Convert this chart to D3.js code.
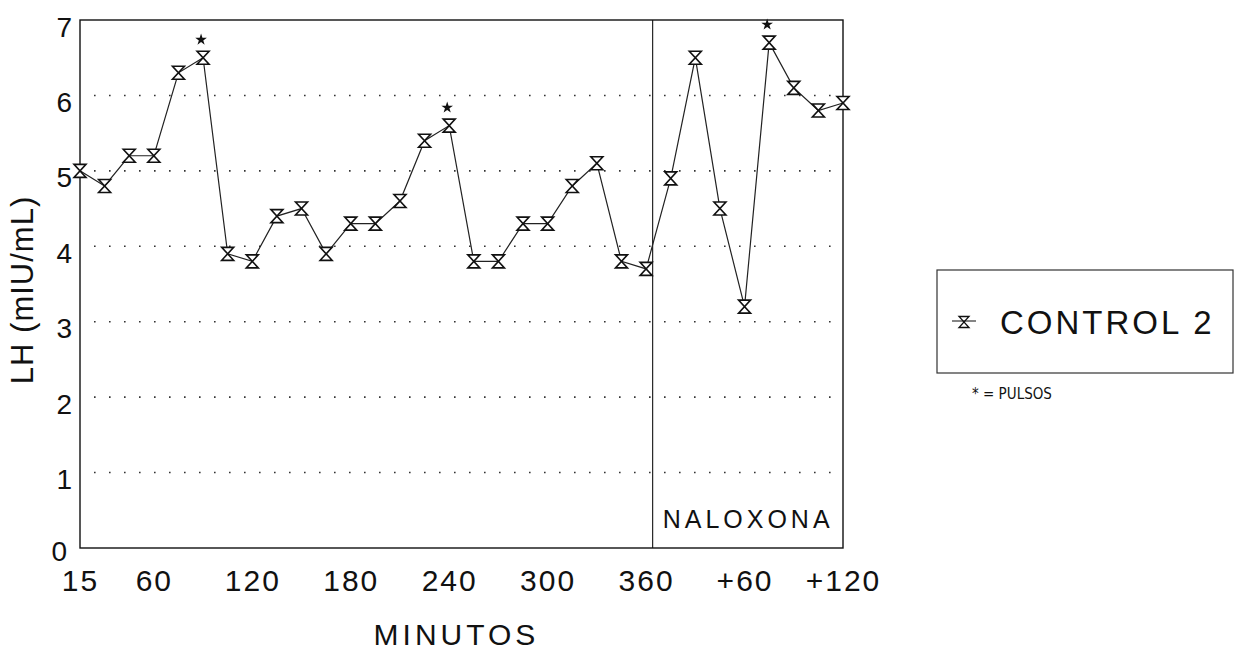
<!DOCTYPE html>
<html>
<head>
<meta charset="utf-8">
<script src="https://cdn.jsdelivr.net/npm/d3@7"></script>
<style>
  html, body { margin: 0; padding: 0; background: #fff; }
  svg { display: block; font-family: "Liberation Sans", Arial, Helvetica, sans-serif; }
</style>
</head>
<body>
<svg id="chart" width="1234" height="654"></svg>
<script>
// ---- data ----
const minutes = [15,30,45,60,75,90,105,120,135,150,165,180,195,210,225,240,255,270,285,300,315,330,345,360,
                 375,390,405,420,435,450,465,480];
const lhValues = [5.0,4.8,5.2,5.2,6.3,6.5,3.9,3.8,4.4,4.5,3.9,4.3,4.3,4.6,5.4,5.6,3.8,3.8,4.3,4.3,4.8,5.1,3.8,3.7,
                  4.9,6.5,4.5,3.2,6.7,6.1,5.8,5.9];
const pulseMinutes = [90, 240, 435];
const xTickValues = [15,60,120,180,240,300,360,420,480];
const xTickLabels = ["15","60","120","180","240","300","360","+60","+120"];
const yTickValues = [0,1,2,3,4,5,6,7];
const gridValues = [1,2,3,4,5,6];
const naloxoneStart = 364;
const seriesName = "CONTROL 2";
const pulseNote = "* = PULSOS";
const naloxoneLabel = "NALOXONA";
const xTitle = "MINUTOS";
const yTitle = "LH (mIU/mL)";

// ---- layout ----
(function draw() {
const svg = d3.select("#chart");
const pLeft = 80, pRight = 843, pTop = 20, pBottom = 548;
const x = d3.scaleLinear().domain([15, 480]).range([pLeft, pRight]);
const y = d3.scaleLinear().domain([0, 7]).range([pBottom, pTop]);
const ink = "#111";

// gridlines (dotted)
svg.append("g").selectAll("line").data(gridValues).join("line")
  .attr("x1", pLeft + 14).attr("x2", pRight)
  .attr("y1", d => y(d)).attr("y2", d => y(d))
  .attr("stroke", "#333").attr("stroke-width", 1.6)
  .attr("stroke-dasharray", "1.6,13.4");

// frame
svg.append("rect")
  .attr("x", pLeft).attr("y", pTop)
  .attr("width", pRight - pLeft).attr("height", pBottom - pTop)
  .attr("fill", "none").attr("stroke", ink).attr("stroke-width", 1.4);

// naloxone divider
svg.append("line")
  .attr("x1", x(naloxoneStart)).attr("x2", x(naloxoneStart))
  .attr("y1", pTop).attr("y2", pBottom)
  .attr("stroke", ink).attr("stroke-width", 1.1);

svg.append("text")
  .attr("x", x(naloxoneStart) + 10).attr("y", 528)
  .attr("font-size", 25).attr("letter-spacing", 4)
  .attr("fill", ink)
  .text(naloxoneLabel);

// axes
const yAxis = svg.append("g").attr("transform", `translate(${pLeft},0)`)
  .call(d3.axisLeft(y).tickValues(yTickValues).tickSize(0).tickPadding(8).tickFormat(d3.format("d")));
yAxis.select(".domain").remove();
yAxis.selectAll("text").attr("dy", null).attr("y", d => d === 0 ? 12 : 16)
  .attr("x", d => d === 0 ? -13 : -8)
  .attr("font-size", 28).attr("font-family", "Liberation Sans, Arial, sans-serif").attr("fill", ink);

const xAxis = svg.append("g").attr("transform", `translate(0,${pBottom})`)
  .call(d3.axisBottom(x).tickValues(xTickValues).tickSize(0).tickPadding(0)
        .tickFormat((d, i) => xTickLabels[i]));
xAxis.select(".domain").remove();
xAxis.selectAll("text").attr("dy", null).attr("y", 43)
  .attr("font-size", 30).attr("letter-spacing", 2)
  .attr("font-family", "Liberation Sans, Arial, sans-serif").attr("fill", ink);

// axis titles
svg.append("text")
  .attr("x", (pLeft + pRight) / 2 - 5).attr("y", 645)
  .attr("text-anchor", "middle").attr("font-size", 30).attr("letter-spacing", 4)
  .attr("fill", ink).text(xTitle);

svg.append("text")
  .attr("transform", `translate(33,290) rotate(-90)`)
  .attr("text-anchor", "middle").attr("font-size", 31).attr("letter-spacing", 1)
  .attr("fill", ink).text(yTitle);

// series line
const pts = minutes.map((m, i) => ({ m, v: lhValues[i] }));
svg.append("path")
  .datum(pts)
  .attr("fill", "none").attr("stroke", "#222").attr("stroke-width", 1.2)
  .attr("d", d3.line().x(d => x(d.m)).y(d => y(d.v)));

// hourglass markers
const hourglass = (w, h) => `M${-w/2},${-h/2}L${w/2},${-h/2}L${-w/2},${h/2}L${w/2},${h/2}Z`;
svg.append("g").selectAll("path").data(pts).join("path")
  .attr("transform", d => `translate(${x(d.m)},${y(d.v)})`)
  .attr("d", hourglass(12, 13))
  .attr("fill", "#fff").attr("stroke", ink).attr("stroke-width", 1.6)
  .attr("stroke-linejoin", "miter");

// pulse stars
svg.append("g").selectAll("path").data(pulseMinutes).join("path")
  .attr("transform", m => {
    const v = lhValues[minutes.indexOf(m)];
    return `translate(${x(m) - 2},${y(v) - 18})`;
  })
  .attr("d", d3.symbol().type(d3.symbolStar).size(42))
  .attr("fill", ink);

// legend
const lg = svg.append("g");
lg.append("rect")
  .attr("x", 937).attr("y", 270).attr("width", 296).attr("height", 103)
  .attr("fill", "none").attr("stroke", "#333").attr("stroke-width", 1.2);
lg.append("line")
  .attr("x1", 952).attr("x2", 976).attr("y1", 321).attr("y2", 321)
  .attr("stroke", "#222").attr("stroke-width", 1.1);
lg.append("path")
  .attr("transform", "translate(964,322)")
  .attr("d", hourglass(10, 11))
  .attr("fill", "none").attr("stroke", ink).attr("stroke-width", 1.3);
lg.append("text")
  .attr("x", 1000).attr("y", 334)
  .attr("font-size", 33).attr("letter-spacing", 3)
  .attr("fill", ink).text(seriesName);

svg.append("text")
  .attr("x", 972).attr("y", 399)
  .attr("font-size", 15)
  .attr("font-family", "Liberation Sans Narrow, DejaVu Sans Condensed, Arial Narrow, sans-serif")
  .attr("fill", ink).text(pulseNote);
})();
</script>
</body>
</html>
